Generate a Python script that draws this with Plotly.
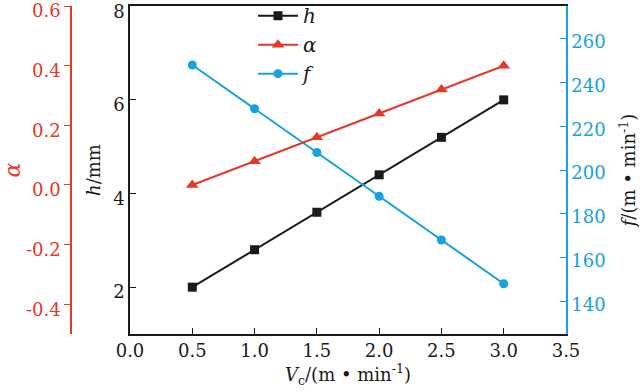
import plotly.graph_objects as go

vc = [0.5, 1.0, 1.5, 2.0, 2.5, 3.0]
h_vals = [2.0, 2.8, 3.6, 4.4, 5.2, 6.0]
alpha_vals = [0.0, 0.08, 0.16, 0.24, 0.32, 0.40]
f_vals = [248, 228, 208, 188, 168, 148]

x_ticks = [0.0, 0.5, 1.0, 1.5, 2.0, 2.5, 3.0, 3.5]
h_ticks = [2, 4, 6, 8]
alpha_ticks = [-0.4, -0.2, 0.0, 0.2, 0.4, 0.6]
f_ticks = [140, 160, 180, 200, 220, 240, 260]

BLACK = "#1a1a1a"
RED = "#e5372a"
CYAN = "#17a2dc"
FONT = "DejaVu Serif"

fig = go.Figure()
fig.add_trace(go.Scatter(x=vc, y=h_vals, name="<i>h</i>", mode="lines+markers",
                         line=dict(color=BLACK, width=2),
                         marker=dict(symbol="square", size=9, color=BLACK),
                         xaxis="x", yaxis="y"))
fig.add_trace(go.Scatter(x=vc, y=alpha_vals, name="<i>α</i>", mode="lines+markers",
                         line=dict(color=RED, width=2),
                         marker=dict(symbol="triangle-up", size=11, color=RED),
                         xaxis="x", yaxis="y3"))
fig.add_trace(go.Scatter(x=vc, y=f_vals, name="<i>f</i>", mode="lines+markers",
                         line=dict(color=CYAN, width=2),
                         marker=dict(symbol="circle", size=9, color=CYAN),
                         xaxis="x", yaxis="y2"))

L, R = 71, 566
x0 = (130 - L) / (R - L)

fig.update_layout(
    width=643, height=392,
    margin=dict(l=L, r=643 - R, t=6, b=58, autoexpand=False),
    paper_bgcolor="white", plot_bgcolor="white",
    font=dict(family=FONT, size=18, color=BLACK),
    showlegend=True,
    legend=dict(x=(253 - L) / (R - L), y=1.03, xanchor="left", yanchor="top",
                bgcolor="rgba(0,0,0,0)", font=dict(family=FONT, size=20, color=BLACK),
                itemwidth=40, tracegroupgap=0),
    xaxis=dict(domain=[x0, 1], range=[0, 3.5], tickvals=x_ticks,
               ticktext=[f"{v:.1f}" for v in x_ticks],
               ticks="inside", ticklen=6, tickcolor=BLACK,
               showline=True, linecolor=BLACK, linewidth=1.5, mirror=True,
               showgrid=False, zeroline=False, automargin=False,
               ticklabeloverflow="allow",
               tickfont=dict(size=18, color=BLACK),
               title=dict(text="<i>V</i><sub>c</sub>/(m • min<sup>-1</sup>)",
                          font=dict(size=18, color=BLACK), standoff=2)),
    yaxis=dict(range=[1, 8.005], tickvals=h_ticks, anchor="x",
               ticks="inside", ticklen=6, tickcolor=BLACK,
               showline=True, linecolor=BLACK, linewidth=1.5,
               showgrid=False, zeroline=False, automargin=False,
               ticklabeloverflow="allow", ticklabelshift=5,
               tickfont=dict(size=18, color=BLACK),
               title=dict(text="<i>h</i>/mm", font=dict(size=18, color=BLACK), standoff=8)),
    yaxis2=dict(range=[125, 275], tickvals=f_ticks, anchor="x", overlaying="y", side="right",
                ticks="inside", ticklen=6, tickcolor=CYAN,
                showline=True, linecolor=CYAN, linewidth=1.5,
                showgrid=False, zeroline=False, automargin=False,
                ticklabeloverflow="allow", ticklabelshift=3,
                tickfont=dict(size=18, color=CYAN),
                title=dict(text="<i>f</i>/(m • min<sup>-1</sup>)",
                           font=dict(size=18, color=BLACK), standoff=18)),
    yaxis3=dict(range=[-0.5, 0.6005], tickvals=alpha_ticks,
                ticktext=[f"{v:.1f}" for v in alpha_ticks],
                anchor="free", position=0, overlaying="y", side="left",
                ticks="outside", ticklen=6, tickcolor=RED,
                showline=True, linecolor=RED, linewidth=1.5,
                showgrid=False, zeroline=False, automargin=False,
                ticklabeloverflow="allow", ticklabelshift=5,
                tickfont=dict(size=18, color=RED),
                title=dict(text="<i>α</i>", font=dict(size=22, color=RED), standoff=2)),
)

fig.write_html("out.html", config={"displayModeBar": False},
               post_script="document.body.style.margin='0';")
